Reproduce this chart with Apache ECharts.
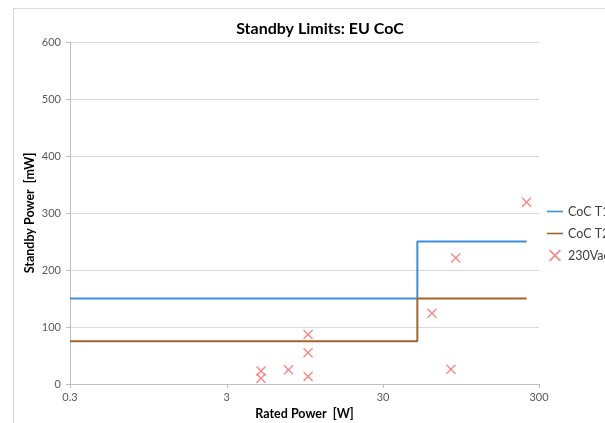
<!DOCTYPE html>
<html>
<head>
<meta charset="utf-8">
<script src="https://cdn.jsdelivr.net/npm/echarts@6/dist/echarts.min.js"></script>
<style>
  html, body { margin: 0; padding: 0; background: #fff; }
  #chart { width: 605px; height: 423px; }
</style>
</head>
<body>
<div id="chart"></div>
<script>
// Standby limits (EU Code of Conduct) vs. rated power
const xTicks = [0.3, 3, 30, 300];
const yTicks = [0, 100, 200, 300, 400, 500, 600];

// Tier 1 / Tier 2 limit curves: [rated power W, standby mW]
const cocT1 = [[0.3, 150], [50, 150], [50, 250], [250, 250]];
const cocT2 = [[0.3, 75], [50, 75], [50, 150], [250, 150]];

// Measured units at 230 Vac
const meas230Vac = [
  [5, 23], [5, 10], [7.5, 25], [10, 87], [10, 55], [10, 13],
  [62, 124], [88, 221], [82, 26], [250, 319]
];

const crossPath = 'path://M0,2 L2,0 L10,8 L18,0 L20,2 L12,10 L20,18 L18,20 L10,12 L2,20 L0,18 L8,10 Z';
const barPath = 'path://M0,0 L20,0 L20,2 L0,2 Z';
const font = 'Lato, "Open Sans", sans-serif';

// log-axis tick values come back with rounding noise; snap them to the decade labels
function tickLabel(v) {
  let best = xTicks[0];
  for (const t of xTicks) {
    if (Math.abs(Math.log10(v) - Math.log10(t)) < Math.abs(Math.log10(v) - Math.log10(best))) best = t;
  }
  return String(best);
}

const chart = echarts.init(document.getElementById('chart'), null, { renderer: 'canvas' });
chart.setOption({
  backgroundColor: '#fff',
  animation: false,
  graphic: [{
    type: 'rect', left: 11, top: 6, silent: true,
    shape: { width: 700, height: 500 },
    style: { fill: 'none', stroke: '#d9d9d9', lineWidth: 1 }
  }],
  title: {
    text: 'Standby Limits: EU CoC',
    left: 315, top: 16, textAlign: 'center',
    textStyle: { fontFamily: font, fontSize: 16, fontWeight: 'bold', color: '#000' }
  },
  legend: {
    orient: 'vertical', left: 542, top: 200, padding: 5, itemGap: 9,
    itemWidth: 16, itemHeight: 12,
    textStyle: { fontFamily: font, fontSize: 12.5, color: '#404040' },
    data: [
      { name: 'CoC T1', icon: barPath },
      { name: 'CoC T2', icon: barPath },
      { name: '230Vac', icon: crossPath, itemStyle: { color: '#f26a6a' } }
    ]
  },
  grid: { left: 70, right: 66, top: 42, bottom: 39, outerBoundsMode: 'none', containLabel: false },
  xAxis: {
    type: 'log', logBase: 10, min: xTicks[0], max: xTicks[xTicks.length - 1], interval: 1,
    name: 'Rated Power  [W]', nameLocation: 'middle', nameGap: 23, nameMoveOverlap: false,
    nameTextStyle: { fontFamily: font, fontSize: 12.5, fontWeight: 'bold', color: '#000' },
    axisLine: { lineStyle: { color: '#bfbfbf' } },
    axisTick: { show: true, length: 4, lineStyle: { color: '#bfbfbf' } },
    axisLabel: { fontFamily: font, fontSize: 11, color: '#595959', margin: 8, formatter: tickLabel },
    splitLine: { show: false },
    minorTick: { show: false }
  },
  yAxis: {
    type: 'value', min: yTicks[0], max: yTicks[yTicks.length - 1], interval: 100,
    name: 'Standby Power  [mW]', nameLocation: 'middle', nameGap: 34, nameMoveOverlap: false,
    nameTextStyle: { fontFamily: font, fontSize: 12.5, fontWeight: 'bold', color: '#000' },
    axisLine: { show: true, lineStyle: { color: '#bfbfbf' } },
    axisTick: { show: true, length: 4, lineStyle: { color: '#bfbfbf' } },
    axisLabel: { fontFamily: font, fontSize: 11, color: '#595959', margin: 9 },
    splitLine: { lineStyle: { color: '#d9d9d9', width: 1 } }
  },
  series: [
    {
      name: 'CoC T1', type: 'line', data: cocT1, symbol: 'none',
      lineStyle: { color: '#3d8fd9', width: 2 }, itemStyle: { color: '#3d8fd9' }, z: 3
    },
    {
      name: 'CoC T2', type: 'line', data: cocT2, symbol: 'none',
      lineStyle: { color: '#a4622c', width: 2 }, itemStyle: { color: '#a4622c' }, z: 3
    },
    {
      name: '230Vac', type: 'scatter', data: meas230Vac,
      symbol: crossPath, symbolSize: 10,
      itemStyle: { color: '#f26a6a' }, z: 4
    }
  ]
});
</script>
</body>
</html>
